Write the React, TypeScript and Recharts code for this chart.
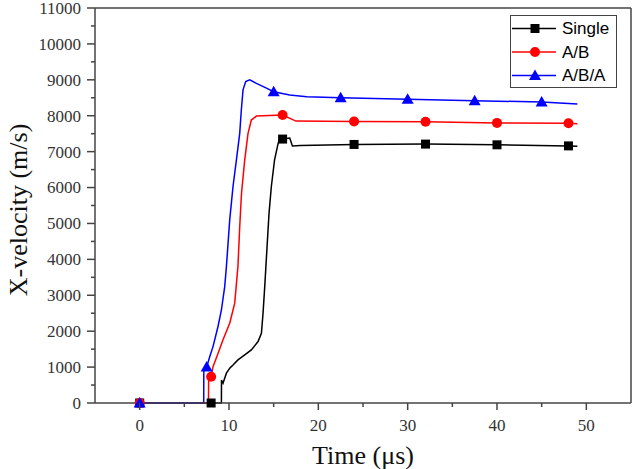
import { LineChart, Line, XAxis, YAxis, ReferenceLine } from 'recharts';

// time in µs, x-velocity in m/s
const singleTime = [0, 8, 9.15, 9.16, 9.33, 9.71, 10.08, 10.45, 11.0, 11.76, 12.5, 13.25, 13.63, 13.81, 14.0, 14.26, 14.48, 14.74, 15.1, 15.5, 15.68, 16, 16.8, 17.1, 18, 24, 32, 40, 48, 49];
const singleVelocity = [0, 0, 0, 640, 550, 830, 970, 1060, 1200, 1340, 1480, 1710, 1940, 2500, 3240, 4350, 5280, 6030, 6770, 7230, 7370, 7350, 7380, 7160, 7170, 7200, 7210, 7190, 7160, 7150];
const singleMarks = [0, 8, 16, 24, 32, 40, 48];

const abTime = [0, 7.7, 7.72, 8, 8.21, 8.77, 9.33, 10.08, 10.64, 11.0, 11.2, 11.4, 11.76, 12.13, 12.5, 13.07, 16, 17.5, 24, 32, 40, 48, 49];
const abVelocity = [0, 0, 600, 730, 1010, 1380, 1760, 2220, 2780, 3800, 4910, 5840, 6770, 7510, 7880, 7990, 8020, 7850, 7840, 7830, 7800, 7790, 7780];
const abMarks = [0, 8, 16, 24, 32, 40, 48];

const abaTime = [0, 7.17, 7.18, 7.5, 7.84, 8.21, 8.77, 9.15, 9.52, 9.71, 10.08, 10.45, 10.83, 11.2, 11.38, 11.57, 11.87, 12.32, 13.07, 14.19, 15, 16.8, 18.7, 22.5, 30, 37.5, 45, 49];
const abaVelocity = [0, 0, 900, 1000, 1290, 1570, 2130, 2590, 3240, 3800, 5100, 6030, 6770, 7510, 8160, 8720, 8950, 9000, 8900, 8770, 8670, 8580, 8530, 8500, 8460, 8420, 8380, 8330];
const abaMarks = [0, 7.5, 15, 22.5, 30, 37.5, 45];

const xTicks = [0, 5, 10, 15, 20, 25, 30, 35, 40, 45, 50];
const yTicks = Array.from({ length: 23 }, (_, i) => i * 500);

const toPoints = (time: number[], vel: number[], marks: number[]) =>
  time.map((t, i) => ({ t, v: vel[i], mark: marks.includes(t) }));

const AXIS = '#444';
const SERIF = '"Liberation Serif", "Times New Roman", serif';
const SANS = '"Liberation Sans", Arial, sans-serif';

type Shape = 'square' | 'circle' | 'triangle';

const series: { name: string; color: string; shape: Shape; points: ReturnType<typeof toPoints> }[] = [
  { name: 'Single', color: '#000000', shape: 'square', points: toPoints(singleTime, singleVelocity, singleMarks) },
  { name: 'A/B', color: '#ff0000', shape: 'circle', points: toPoints(abTime, abVelocity, abMarks) },
  { name: 'A/B/A', color: '#0000ff', shape: 'triangle', points: toPoints(abaTime, abaVelocity, abaMarks) },
];

const Marker = ({ cx, cy, shape, color }: { cx: number; cy: number; shape: Shape; color: string }) => {
  if (shape === 'square') return <rect x={cx - 4.5} y={cy - 4.5} width={9} height={9} fill={color} />;
  if (shape === 'circle') return <circle cx={cx} cy={cy} r={5} fill={color} />;
  return <path d={`M${cx},${cy - 6}L${cx + 6},${cy + 4.5}L${cx - 6},${cy + 4.5}Z`} fill={color} />;
};

const dotFor = (shape: Shape, color: string) => (p: any) => {
  if (!p.payload?.mark) return <g key={p.key ?? `n${p.index}`} />;
  return (
    <g key={p.key ?? `m${p.index}`}>
      <Marker cx={p.cx} cy={p.cy} shape={shape} color={color} />
    </g>
  );
};

const XTick = ({ x, y, payload }: any) => {
  const major = payload.value % 10 === 0;
  return (
    <g>
      <line x1={x} x2={x} y1={y} y2={y + (major ? 7 : 4)} stroke={AXIS} strokeWidth={1.5} />
      {major && (
        <text x={x} y={y + 22} dy="0.35em" textAnchor="middle" fontFamily={SERIF} fontSize={17} fill="#333">
          {payload.value}
        </text>
      )}
    </g>
  );
};

const YTick = ({ x, y, payload }: any) => {
  const major = payload.value % 1000 === 0;
  return (
    <g>
      <line x1={x - (major ? 8 : 4)} x2={x} y1={y} y2={y} stroke={AXIS} strokeWidth={1.5} />
      {major && (
        <text x={x - 14} y={y} dy="0.35em" textAnchor="end" fontFamily={SERIF} fontSize={17} fill="#333">
          {payload.value}
        </text>
      )}
    </g>
  );
};

// legend box in the upper right corner of the plot
const LegendBox = () => (
  <svg width={107} height={73} style={{ position: 'absolute', left: 510, top: 15 }}>
    <rect x={0.5} y={0.5} width={106} height={72} fill="#fff" stroke={AXIS} strokeWidth={1} />
    {series.map((s, i) => {
      const cy = 13.5 + i * 23.5;
      return (
        <g key={s.name}>
          <line x1={2} x2={46} y1={cy} y2={cy} stroke={s.color} strokeWidth={1.5} />
          <Marker cx={25} cy={cy} shape={s.shape} color={s.color} />
          <text x={52} y={cy} dy="0.35em" fontFamily={SANS} fontSize={17} fill="#000">
            {s.name}
          </text>
        </g>
      );
    })}
  </svg>
);

export default function App() {
  return (
    <div style={{ position: 'absolute', left: 0, top: 0, width: 635, height: 469, background: '#fff' }}>
      <LineChart width={635} height={469} margin={{ top: 8, right: 4, left: 0, bottom: 0 }}>
        <XAxis
          type="number"
          dataKey="t"
          domain={[-5, 55]}
          ticks={xTicks}
          interval={0}
          height={66}
          tickSize={0}
          tickMargin={0}
          tickLine={false}
          axisLine={{ stroke: AXIS, strokeWidth: 1.5 }}
          tick={<XTick />}
          label={{
            content: ({ viewBox }: any) => (
              <text
                x={viewBox.x + viewBox.width / 2}
                y={455}
                dy="0.35em"
                textAnchor="middle"
                fontFamily={SERIF}
                fontSize={26}
                fill="#111"
              >
                Time (μs)
              </text>
            ),
          }}
        />
        <YAxis
          type="number"
          domain={[0, 11000]}
          ticks={yTicks}
          interval={0}
          width={95}
          tickSize={0}
          tickMargin={0}
          tickLine={false}
          axisLine={{ stroke: AXIS, strokeWidth: 1.5 }}
          tick={<YTick />}
          label={{
            content: () => (
              <text
                x={18}
                y={210}
                dy="0.35em"
                textAnchor="middle"
                fontFamily={SERIF}
                fontSize={26}
                fill="#111"
                transform="rotate(-90 18 210)"
              >
                X-velocity (m/s)
              </text>
            ),
          }}
        />
        {/* top and right edges of the frame */}
        <ReferenceLine y={11000} stroke={AXIS} strokeWidth={1.5} />
        <ReferenceLine x={55} stroke={AXIS} strokeWidth={1.5} />
        {series.map((s) => (
          <Line
            key={s.name}
            name={s.name}
            data={s.points}
            dataKey="v"
            stroke={s.color}
            strokeWidth={1.5}
            dot={dotFor(s.shape, s.color)}
            activeDot={false}
            isAnimationActive={false}
          />
        ))}
      </LineChart>
      <LegendBox />
    </div>
  );
}
